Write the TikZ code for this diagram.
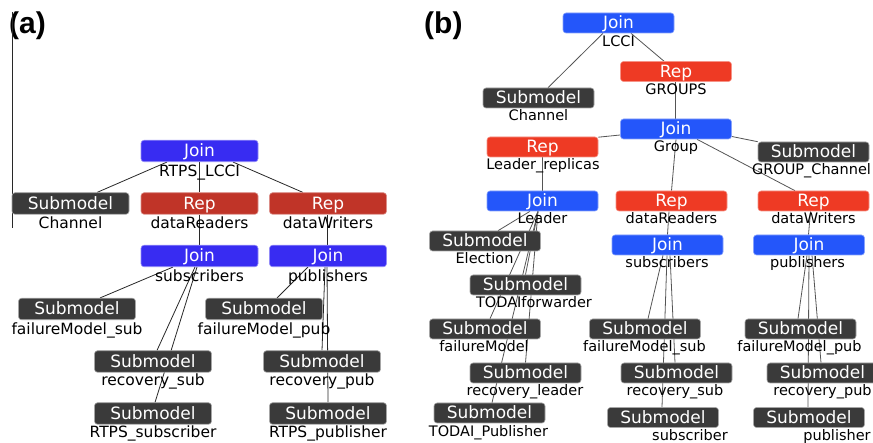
\documentclass[tikz,border=0pt]{standalone}
\usepackage{fontspec}
\setmainfont{DejaVu Sans}
\newfontfamily\panelfont{Liberation Sans}
\usetikzlibrary{backgrounds}

\definecolor{joinA}{RGB}{56,44,242}
\definecolor{repA}{RGB}{192,52,40}
\definecolor{joinB}{RGB}{36,86,250}
\definecolor{repB}{RGB}{238,58,36}
\definecolor{subm}{RGB}{58,58,58}
\definecolor{edgeA}{RGB}{40,40,40}
\definecolor{edgeB}{RGB}{85,85,85}

\tikzset{
  boxbase/.style={rounded corners=3pt, line width=0.6pt, inner sep=0pt,
    text=white, text height=11.5pt, text depth=0pt,
    font=\fontsize{17}{17}\selectfont},
  boxa/.style={boxbase, minimum width=117pt, minimum height=21.5pt},
  boxb/.style={boxbase, minimum width=111pt, minimum height=20pt},
  joinAbox/.style={boxa, fill=joinA, draw=joinA!55!white},
  repAbox/.style={boxa, fill=repA, draw=repA!55!white},
  subAbox/.style={boxa, fill=subm, draw=subm!45!white},
  joinBbox/.style={boxb, fill=joinB, draw=joinB!55!white},
  repBbox/.style={boxb, fill=repB, draw=repB!55!white},
  subBbox/.style={boxb, fill=subm, draw=subm!45!white},
  lbla/.style={anchor=base, inner sep=0pt, text=black,
    font=\fontsize{15.5}{15.5}\selectfont},
  lblb/.style={anchor=base, inner sep=0pt, text=black,
    font=\fontsize{14.5}{14.5}\selectfont},
  panel/.style={anchor=base west, inner sep=0pt,
    font=\panelfont\bfseries\fontsize{30}{30}\selectfont},
  linkA/.style={draw=edgeA, line width=0.8pt},
  linkB/.style={draw=edgeB, line width=0.8pt},
}

\begin{document}
\begin{tikzpicture}[x=1pt,y=-1pt]
\useasboundingbox (0,0) rectangle (873,443);
\begin{pgfonlayer}{background}
\fill[white] (0,0) rectangle (873,443);
\end{pgfonlayer}

% ---------------- panel (a): RTPS composed model ----------------
\node[panel] (pa) at (9,34) {(a)};
\coordinate (frametop) at (12.3,12);
\coordinate (framebot) at (12.3,228);
\draw[edgeA, line width=0.8pt] (frametop) -- (framebot);

\node[joinAbox] (aJ0)  at (199.5,151)   {Join};
\node[subAbox]  (aCh)  at (70.5,203.5)  {Submodel};
\node[repAbox]  (aDR)  at (199.5,203.5) {Rep};
\node[repAbox]  (aDW)  at (328,203.5)   {Rep};
\node[joinAbox] (aSub) at (199.5,256)   {Join};
\node[joinAbox] (aPub) at (328,256)     {Join};
\node[subAbox]  (aFMs) at (77,309)      {Submodel};
\node[subAbox]  (aFMp) at (264,309)     {Submodel};
\node[subAbox]  (aRs)  at (153,361.5)   {Submodel};
\node[subAbox]  (aRp)  at (322,361.5)   {Submodel};
\node[subAbox]  (aRTs) at (153,413.5)   {Submodel};
\node[subAbox]  (aRTp) at (328,413.5)   {Submodel};

\node[lbla] (aJ0l)  at (199.5,176.5) {RTPS\_LCCI};
\node[lbla] (aChl)  at (70.5,229)    {Channel};
\node[lbla] (aDRl)  at (199.5,229)   {dataReaders};
\node[lbla] (aDWl)  at (328,229)     {dataWriters};
\node[lbla] (aSubl) at (199.5,281.5) {subscribers};
\node[lbla] (aPubl) at (328,281.5)   {publishers};
\node[lbla] (aFMsl) at (77,334.5)    {failureModel\_sub};
\node[lbla] (aFMpl) at (264,334.5)   {failureModel\_pub};
\node[lbla] (aRsl)  at (153,386)     {recovery\_sub};
\node[lbla] (aRpl)  at (322,386)     {recovery\_pub};
\node[lbla] (aRTsl) at (153,438)     {RTPS\_subscriber};
\node[lbla] (aRTpl) at (328,438)     {RTPS\_publisher};

\begin{pgfonlayer}{background}
\draw[linkA] ([xshift=-32.5pt]aJ0.south) -- ([xshift=26.5pt]aCh.north);
\draw[linkA] (aJ0.south) -- (aDR.north);
\draw[linkA] ([xshift=33.5pt]aJ0.south) -- ([xshift=-25pt]aDW.north);
\draw[linkA] (aDR.south) -- (aSub.north);
\draw[linkA] ([xshift=-1pt]aDW.south) -- ([xshift=-1pt]aPub.north);
\draw[linkA] ([xshift=-26.5pt]aSub.south) -- ([xshift=23pt]aFMs.north);
\draw[linkA] ([xshift=-4.5pt]aSub.south) -- ([xshift=4pt]aRs.north);
\draw[linkA] ([xshift=-2.5pt]aSub.south) -- ([xshift=2pt]aRTs.north);
\draw[linkA] ([xshift=-20pt]aPub.south) -- ([xshift=13pt]aFMp.north);
\draw[linkA] ([xshift=-3pt]aPub.south) -- (aRp.north);
\draw[linkA] ([xshift=-1pt]aPub.south) -- (aRTp.north);
\end{pgfonlayer}

% ---------------- panel (b): LCCI composed model ----------------
\node[panel] (pb) at (424,34) {(b)};

\node[joinBbox] (bJ0)  at (618.5,23)   {Join};
\node[repBbox]  (bGR)  at (676,71.5)   {Rep};
\node[subBbox]  (bCh)  at (538.5,98)   {Submodel};
\node[joinBbox] (bGp)  at (676,129)    {Join};
\node[repBbox]  (bLR)  at (542.5,147)  {Rep};
\node[subBbox]  (bGC)  at (813.5,152)  {Submodel};
\node[joinBbox] (bLd)  at (542.5,201)  {Join};
\node[repBbox]  (bDR)  at (671.5,201)  {Rep};
\node[repBbox]  (bDW)  at (813.5,201)  {Rep};
\node[subBbox]  (bEl)  at (485,241)    {Submodel};
\node[joinBbox] (bSub) at (667.5,245)  {Join};
\node[joinBbox] (bPub) at (809,245)    {Join};
\node[subBbox]  (bTF)  at (525.5,285)  {Submodel};
\node[subBbox]  (bFM)  at (485,329)    {Submodel};
\node[subBbox]  (bFMs) at (645,329)    {Submodel};
\node[subBbox]  (bFMp) at (800.5,329)  {Submodel};
\node[subBbox]  (bRL)  at (525.5,373)  {Submodel};
\node[subBbox]  (bRs)  at (676.5,373)  {Submodel};
\node[subBbox]  (bRp)  at (822.5,373)  {Submodel};
\node[subBbox]  (bTP)  at (489.5,413)  {Submodel};
\node[subBbox]  (bSs)  at (663,417.5)  {Submodel};
\node[subBbox]  (bPs)  at (809,417.5)  {Submodel};

\node[lblb] (bJ0l)  at (618.5,46.5) {LCCI};
\node[lblb] (bGRl)  at (676,94.5)   {GROUPS};
\node[lblb] (bChl)  at (538.5,121)  {Channel};
\node[lblb] (bGpl)  at (676,152)    {Group};
\node[lblb] (bLRl)  at (543,170)    {Leader\_replicas};
\node[lblb] (bGCl)  at (811.5,175)  {GROUP\_Channel};
\node[lblb] (bLdl)  at (542.5,224)  {Leader};
\node[lblb] (bDRl)  at (671.5,224)  {dataReaders};
\node[lblb] (bDWl)  at (813.5,224)  {dataWriters};
\node[lblb] (bEll)  at (484.5,264)  {Election};
\node[lblb] (bSubl) at (667,268)    {subscribers};
\node[lblb] (bPubl) at (807.5,268)  {publishers};
\node[lblb] (bTFl)  at (534,308)    {TODAIforwarder};
\node[lblb] (bFMl)  at (484,352)    {failureModel};
\node[lblb] (bFMsl) at (644.5,352)  {failureModel\_sub};
\node[lblb] (bFMpl) at (799.5,352)  {failureModel\_pub};
\node[lblb] (bRLl)  at (525,396)    {recovery\_leader};
\node[lblb] (bRsl)  at (675,396)    {recovery\_sub};
\node[lblb] (bRpl)  at (822.5,396)  {recovery\_pub};
\node[lblb] (bTPl)  at (488.5,436)  {TODAI\_Publisher};
\node[lblb] (bSsl)  at (690,441)    {subscriber};
\node[lblb] (bPsl)  at (837,441)    {publisher};

\begin{pgfonlayer}{background}
\draw[linkB] ([xshift=-15.5pt]bJ0.south) -- ([xshift=9.5pt]bCh.north);
\draw[linkB] ([xshift=12.5pt]bJ0.south) -- ([xshift=-12pt]bGR.north);
\draw[linkB] ([xshift=-1pt]bGR.south) -- ([xshift=-1pt]bGp.north);
\draw[linkB] ([yshift=-6pt]bGp.west) -- ([yshift=-0.5pt]bLR.north east);
\draw[linkB] ([yshift=-7.5pt]bGp.east) -- (bGC.north west);
\draw[linkB] (bGp.south) -- (bDR.north);
\draw[linkB] ([xshift=21pt]bGp.south) -- ([xshift=-18.5pt]bDW.north);
\draw[linkB] (bLR.south) -- (bLd.north);
\draw[linkB] ([xshift=-2.5pt]bDR.south) -- (bSub.north);
\draw[linkB] ([xshift=-3pt]bDW.south) -- ([xshift=-0.5pt]bPub.north);
% Leader replica contents
\draw[linkB] ([xshift=-12.5pt]bLd.south) -- ([xshift=13pt]bEl.north);
\draw[linkB] ([xshift=-4.5pt]bLd.south) -- (bTF.north);
\draw[linkB] ([xshift=-4.5pt]bLd.south) -- ([xshift=5pt]bFM.north);
\draw[linkB] ([xshift=-4.5pt]bLd.south) -- (bRL.north);
\draw[linkB] ([xshift=-4.5pt]bLd.south) -- ([xshift=2.5pt]bTP.north);
% subscribers
\draw[linkB] ([xshift=-4.5pt]bSub.south) -- ([xshift=3pt]bFMs.north);
\draw[linkB] ([xshift=2.5pt]bSub.south) -- ([xshift=-1.5pt]bRs.north);
\draw[linkB] ([xshift=-0.5pt]bSub.south) -- ([xshift=-1pt]bSs.north);
% publishers
\draw[linkB] ([xshift=-2pt]bPub.south) -- ([xshift=-2.5pt]bFMp.north);
\draw[linkB] ([xshift=3pt]bPub.south) -- ([xshift=-1.5pt]bRp.north);
\draw[linkB] (bPub.south) -- ([xshift=-1pt]bPs.north);
\end{pgfonlayer}
\end{tikzpicture}
\end{document}
